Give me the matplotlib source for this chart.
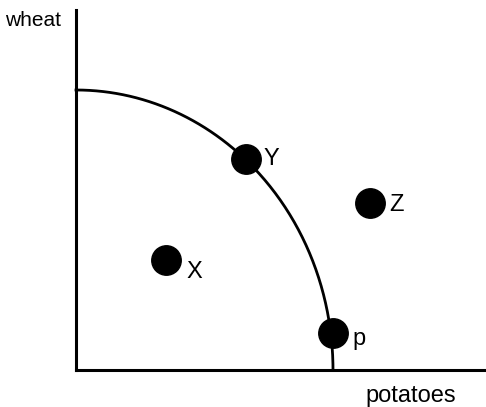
import numpy as np
import matplotlib
matplotlib.use("Agg")
import matplotlib.pyplot as plt

# Data (pixel-like units, origin at axes corner)
point_names = ["X", "Y", "Z", "p"]
point_x = [90, 170, 294, 257]
point_y = [110, 211, 167, 37]
label_dx = [28, 25, 26, 26]
label_dy = [-12, 0, -2, -6]
ppf_a = 257   # max potatoes
ppf_b = 280   # max wheat

fig = plt.figure(figsize=(4.86, 4.07), dpi=100)
ax = fig.add_axes([76/486, (407-370)/407, (486-76)/486, (370-10)/407])
ax.set_xlim(0, 410)
ax.set_ylim(0, 360)
for s in ["top", "right"]:
    ax.spines[s].set_visible(False)
for s in ["left", "bottom"]:
    ax.spines[s].set_linewidth(2.2)
ax.set_xticks([]); ax.set_yticks([])

t = np.linspace(0, np.pi/2, 300)
ax.plot(ppf_a*np.sin(t), ppf_b*np.cos(t), color="black", lw=2, clip_on=False)

ax.scatter(point_x, point_y, s=450, color="black", zorder=3, clip_on=False)
for n, x, y, dx, dy in zip(point_names, point_x, point_y, label_dx, label_dy):
    ax.text(x+dx, y+dy, n, fontsize=17, family="Liberation Sans", va="center", ha="center")

fig.text(33/486, 1-21/407, "wheat", fontsize=15, family="Liberation Sans", ha="center", va="center")
fig.text(411/486, 1-396/407, "potatoes", fontsize=17, family="Liberation Sans", ha="center", va="center")

fig.savefig("out.png", dpi=100)
